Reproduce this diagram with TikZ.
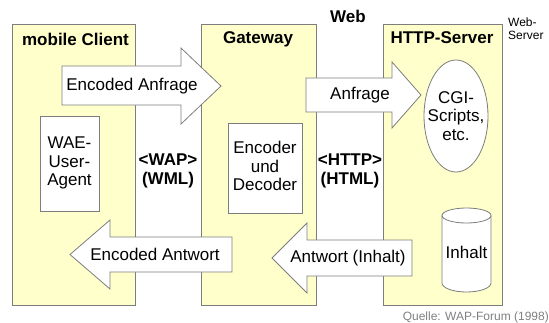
\documentclass[tikz,border=0pt]{standalone}
\usepackage{fontspec}
\setmainfont{Liberation Sans}
\usetikzlibrary{positioning}
\definecolor{paleyellow}{RGB}{255,255,204}
\definecolor{framegray}{RGB}{125,125,125}

\begin{document}
\begin{tikzpicture}[x=1pt,y=-1pt,
  column/.style={draw=framegray,fill=paleyellow,line width=0.8pt},
  blockarrow/.style={draw=framegray,fill=white,line width=0.8pt},
  whitebox/.style={draw=framegray,fill=white,line width=0.8pt},
  lbl/.style={font=\fontsize{17}{18.8}\selectfont,align=center,inner sep=0pt},
  title/.style={font=\fontsize{17}{18.8}\selectfont\bfseries,align=center,inner sep=0pt},
  small/.style={font=\fontsize{12}{13}\selectfont,align=left,inner sep=0pt}]
  \useasboundingbox (0,0) rectangle (549,322);

  % the three columns
  \draw[column] (12,24) rectangle (135,305);
  \draw[column] (201,24) rectangle (316,305);
  \draw[column] (383,24) rectangle (502,305);
  \node[title] (client) at (75.5,39) {mobile Client};
  \node[title] (gateway) at (258,39) {Gateway};
  \node[title] (server) at (442,38) {HTTP-Server};
  \node[title] (web) at (348,16) {Web};
  \node[small,anchor=north west] (webserver) at (508,18) {Web-\\Server};

  % boxes inside the columns
  \draw[whitebox] (40,116) rectangle (99,211);
  \node[lbl] (agent) at (69.5,163) {WAE-\\User-\\Agent};
  \draw[whitebox] (228,123) rectangle (302,213);
  \node[lbl] (coder) at (265,166) {Encoder\\und\\Decoder};
  \draw[whitebox] (456,116) ellipse (32 and 56);
  \node[lbl] (cgi) at (456,116) {CGI-\\Scripts,\\etc.};
  \draw[whitebox] (442,215.5) -- (442,283) arc (180:0:24.5 and 9) -- (491,215.5) arc (0:-180:24.5 and 7.5) -- cycle;
  \draw[framegray,line width=0.8pt] (442,215.5) arc (180:0:24.5 and 7.5);
  \node[lbl] (inhalt) at (466.5,252) {Inhalt};

  % protocol labels
  \node[title] (wap) at (168,171) {<WAP>\\(WML)};
  \node[title] (http) at (350,171) {<HTTP>\\(HTML)};

  % block arrows
  \draw[blockarrow] (62,66) -- (181,66) -- (181,48) -- (221,86) -- (181,124) -- (181,105) -- (62,105) -- cycle;
  \node[lbl] (encreq) at (132,86) {Encoded Anfrage};
  \draw[blockarrow] (306,78) -- (392,78) -- (392,62) -- (421,95) -- (392,128) -- (392,112) -- (306,112) -- cycle;
  \node[lbl] (req) at (360,95) {Anfrage};
  \draw[blockarrow] (232,237) -- (110,237) -- (110,220) -- (70,254.5) -- (110,289) -- (110,272) -- (232,272) -- cycle;
  \node[lbl] (encresp) at (155,254) {Encoded Antwort};
  \draw[blockarrow] (412,240) -- (307,240) -- (307,223) -- (272,258) -- (307,293) -- (307,276) -- (412,276) -- cycle;
  \node[lbl] (resp) at (348,258) {Antwort (Inhalt)};

  \node[small,text=gray,anchor=east] (source) at (549,317) {Quelle: WAP-Forum (1998)};
\end{tikzpicture}
\end{document}
